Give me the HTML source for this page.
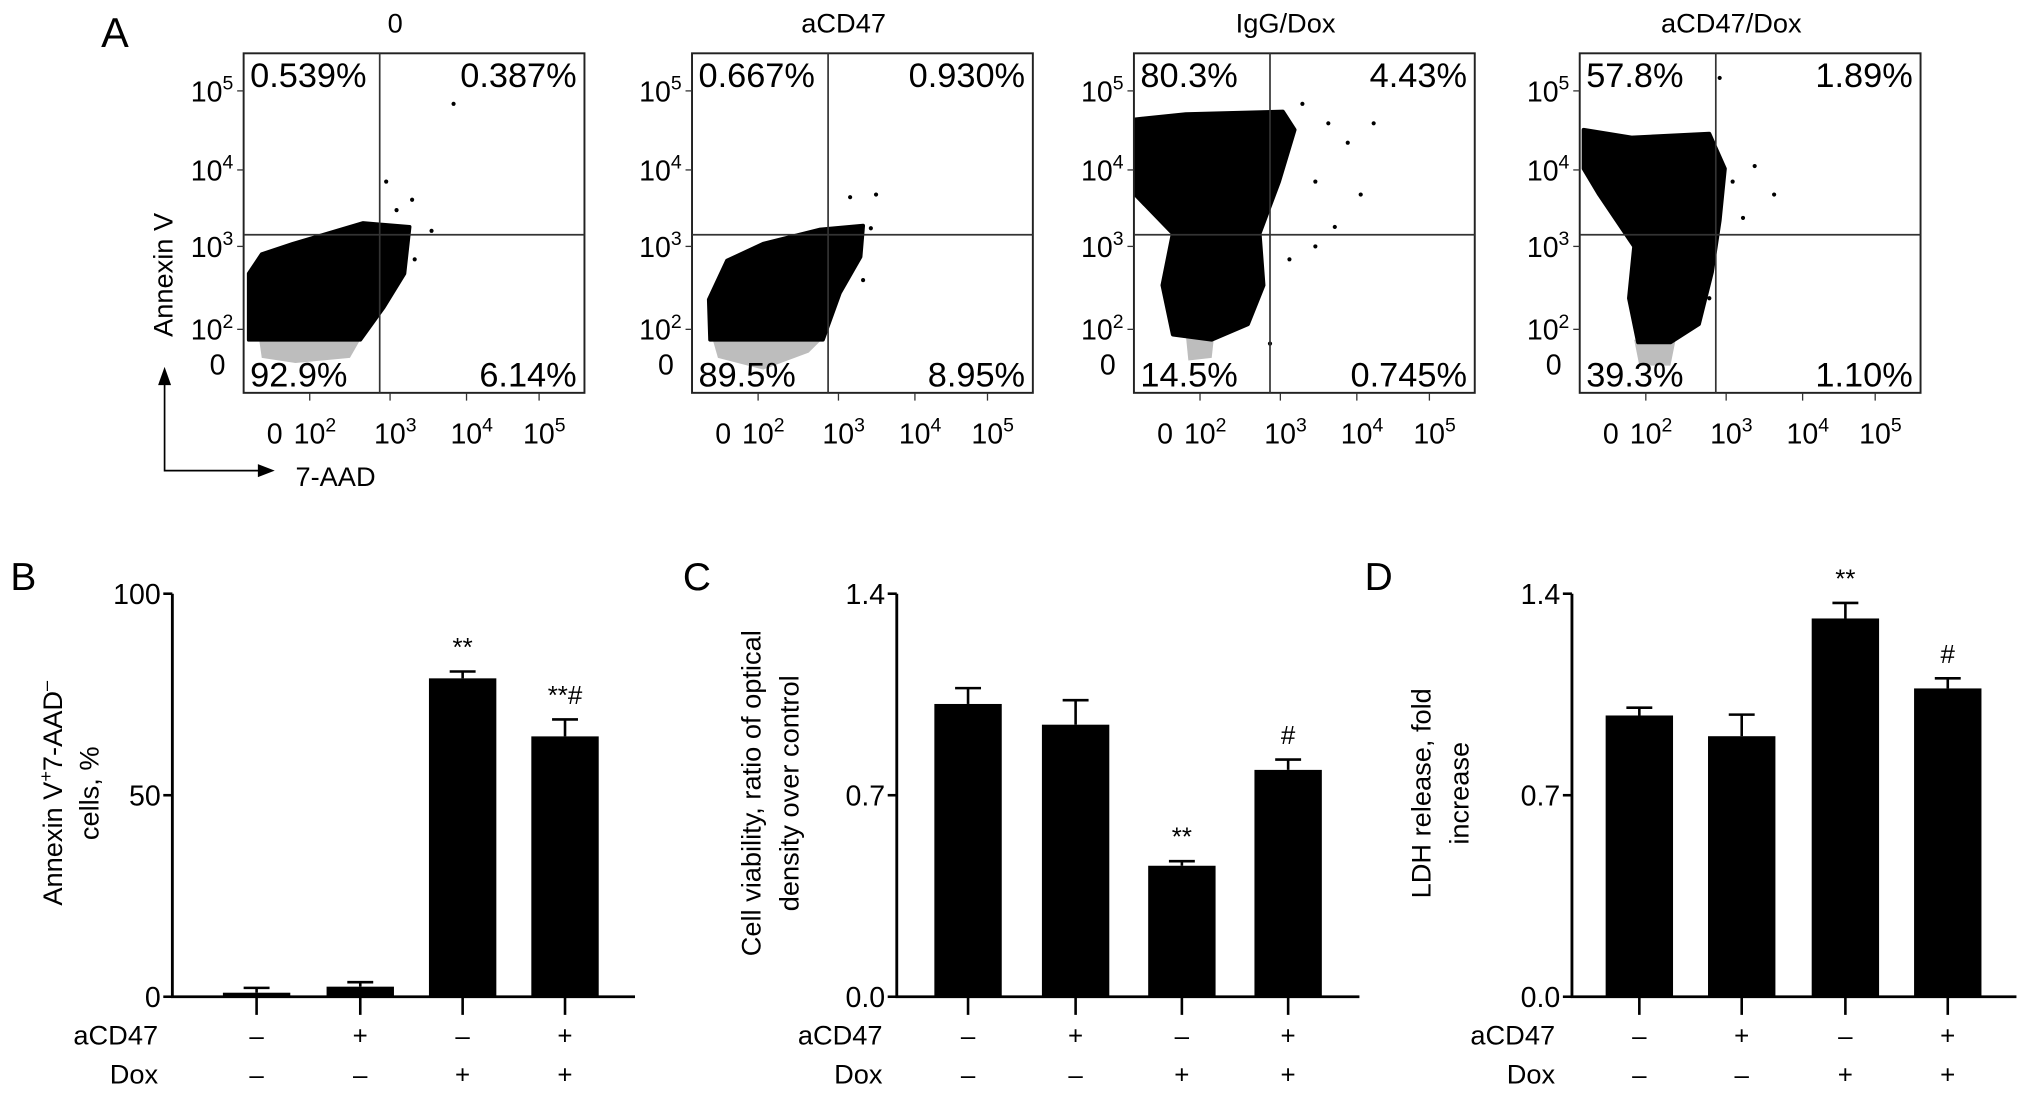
<!DOCTYPE html>
<html><head><meta charset="utf-8"><style>
html,body{margin:0;padding:0;background:#fff;}
svg{display:block;font-family:"Liberation Sans",Arial,sans-serif;}
</style></head><body>
<svg id="fig" width="2032" height="1098" viewBox="0 0 1568 847" xmlns="http://www.w3.org/2000/svg">
<rect width="1568" height="847" fill="#fff"/>
<g id="panelA"></g>
<g id="bars"></g>
</svg>
<script>
// ---- Panel A (flow cytometry) labels ----
const flowTitles = ["0","aCD47","IgG/Dox","aCD47/Dox"];
const flowUL = ["0.539%","0.667%","80.3%","57.8%"];
const flowUR = ["0.387%","0.930%","4.43%","1.89%"];
const flowLL = ["92.9%","89.5%","14.5%","39.3%"];
const flowLR = ["6.14%","8.95%","0.745%","1.10%"];
const flowYTicks = ["5","4","3","2"];
const flowXTicks = ["2","3","4","5"];

// ---- Panel B ----
const bValues = [1, 2.5, 79, 64.6];
const bErrors = [1.2, 1.1, 1.7, 4.2];
const bTicks = [0, 50, 100];
const bMarks = ["", "", "**", "**#"];
// ---- Panel C ----
const cValues = [1.017, 0.945, 0.455, 0.788];
const cErrors = [0.055, 0.085, 0.016, 0.036];
const cTicks = [0.0, 0.7, 1.4];
const cMarks = ["", "", "**", "#"];
// ---- Panel D ----
const dValues = [0.977, 0.905, 1.314, 1.071];
const dErrors = [0.027, 0.075, 0.054, 0.035];
const dTicks = [0.0, 0.7, 1.4];
const dMarks = ["", "", "**", "#"];
const aCD47Row = ["–","+","–","+"];
const doxRow = ["–","–","+","+"];

const NS = "http://www.w3.org/2000/svg";
function mk(tag, attrs, parent, txt){
  const e = document.createElementNS(NS, tag);
  for (const k in attrs) e.setAttribute(k, attrs[k]);
  if (txt !== undefined) e.textContent = txt;
  parent.appendChild(e);
  return e;
}

// ------ Panel A ------
const A = document.getElementById('panelA');
let t = mk('text',{x:78,y:36,'font-size':32},A,'A');



const lefts = [188, 534, 875, 1219];
const W = 263, TOP = 41, BOT = 303, GX = 105, GY = 181;
const clouds = [
  "4,262 4,211 14,196 38,188 92,172 128,175 124,211 108,237 90,262",
  "14,262 13,231 27,201 55,188 99,177 132,174 130,198 114,226 101,262",
  "1,92 40,88 115,86 124,100 112,140 97,180 100,220 88,250 60,262 30,258 22,220 30,180 1,150",
  "3,100 40,106 100,103 112,130 108,170 102,210 92,250 70,264 45,264 38,230 42,190 15,150 3,130"
];
const grays = [
  "12,262 90,262 82,276 40,280 14,276",
  "16,262 100,262 90,272 55,285 20,276",
  "40,258 62,258 60,276 42,278",
  "42,262 74,262 70,282 46,282"
];
const sparse = [
  [[130,154],[118,162],[145,178],[162,80],[110,140],[132,200]],
  [[122,152],[138,176],[128,200],[142,150],[132,216]],
  [[130,80],[150,95],[165,110],[140,140],[120,200],[105,265],[185,95],[175,150],[140,190],[155,175]],
  [[108,60],[118,140],[135,128],[150,150],[100,230],[126,168]]
];
for (let i=0;i<4;i++){
  const L = lefts[i];
  const g = mk('g',{transform:`translate(${L},0)`},A);
  
  
  t = mk('text',{x:GX+12,y:25,'font-size':21,'text-anchor':'middle'},g,flowTitles[i]);
  
  
  let p = mk('polygon',{points:grays[i],fill:'#bdbdbd'},g);
  
  
  p = mk('polygon',{points:clouds[i],fill:'#000','stroke':'#000','stroke-width':3,'stroke-linejoin':'round'},g);
  
  
  sparse[i].forEach(d=>{
    const c = mk('circle',{cx:d[0],cy:d[1],r:1.6,fill:'#000'},g);
    
    
  });
  let r = mk('rect',{x:0,y:TOP,width:W,height:BOT-TOP,fill:'none',stroke:'#222','stroke-width':1.5},g);
  
  
  let l = mk('line',{x1:GX,y1:TOP,x2:GX,y2:BOT,stroke:'#333','stroke-width':1.3},g);
  
  
  l = mk('line',{x1:0,y1:GY,x2:W,y2:GY,stroke:'#333','stroke-width':1.3},g);
  
  
  const fs = 26.5;
  t = mk('text',{x:5,y:67,'font-size':fs},g,flowUL[i]);  
  t = mk('text',{x:W-6,y:67,'font-size':fs,'text-anchor':'end'},g,flowUR[i]);  
  t = mk('text',{x:5,y:298,'font-size':fs},g,flowLL[i]);  
  t = mk('text',{x:W-6,y:298,'font-size':fs,'text-anchor':'end'},g,flowLR[i]);  
  // y ticks
  const yBase = [78, 139, 198, 262];
  flowYTicks.forEach((s,k)=>{
    t = mk('text',{x:-8,y:yBase[k],'font-size':22,'text-anchor':'end'},g);
    
    
    mk('tspan',{},t,'10');
    mk('tspan',{'font-size':15,dy:-9},t,s);
    mk('line',{x1:-5,y1:yBase[k]-8,x2:0,y2:yBase[k]-8,stroke:'#333','stroke-width':1},g);
  });
  t = mk('text',{x:-14,y:289,'font-size':22,'text-anchor':'end'},g,'0');
  
  
  // x ticks
  const xPos = [55, 117, 176, 232];
  t = mk('text',{x:24,y:342,'font-size':22,'text-anchor':'middle'},g,'0');
  
  
  flowXTicks.forEach((s,k)=>{
    t = mk('text',{x:xPos[k],y:342,'font-size':22,'text-anchor':'middle'},g);
    
    
    mk('tspan',{},t,'10');
    mk('tspan',{'font-size':15,dy:-9},t,s);
    mk('line',{x1:xPos[k]-4,y1:BOT,x2:xPos[k]-4,y2:BOT+6,stroke:'#333','stroke-width':1},g);
  });
}
// axis arrows
const ax = mk('g',{},A);


mk('polyline',{points:'127,296 127,363 200,363',fill:'none',stroke:'#000','stroke-width':1.3},ax);
mk('polygon',{points:'122,297 132,297 127,283',fill:'#000'},ax);
mk('polygon',{points:'199,358 199,368 212,363',fill:'#000'},ax);
t = mk('text',{x:228,y:375,'font-size':21},ax,'7-AAD');


t = mk('text',{x:0,y:0,'font-size':21,'text-anchor':'middle',transform:'translate(133,212) rotate(-90)'},ax,'Annexin V');



// ------ Bar panels ------
const B = document.getElementById('bars');
const Y0 = 769, Y1 = 458;
function barPanel(cfg){
  const g = mk('g',{},B);
  
  
  const ymax = cfg.ticks[cfg.ticks.length-1];
  const ys = v => Y0 - (v/ymax)*(Y0-Y1);
  t = mk('text',{x:cfg.letterX,y:455,'font-size':30},g,cfg.letter);
  
  
  let l = mk('line',{x1:cfg.axX,y1:Y1,x2:cfg.axX,y2:Y0,stroke:'#000','stroke-width':2.2},g);
  
  
  l = mk('line',{x1:cfg.axX-1,y1:Y0,x2:cfg.axEnd,y2:Y0,stroke:'#000','stroke-width':2.2},g);
  
  
  cfg.ticks.forEach(v=>{
    mk('line',{x1:cfg.axX-7,y1:ys(v),x2:cfg.axX,y2:ys(v),stroke:'#000','stroke-width':2},g);
    t = mk('text',{x:cfg.axX-9,y:ys(v)+8,'font-size':22,'text-anchor':'end'},g,cfg.fmt(v));
    
    
  });
  const bw = 52;
  cfg.values.forEach((v,i)=>{
    const cx = cfg.centers[i];
    const top = ys(v), et = ys(v+cfg.errors[i]);
    mk('line',{x1:cx,y1:et,x2:cx,y2:top,stroke:'#000','stroke-width':2},g);
    mk('line',{x1:cx-10,y1:et,x2:cx+10,y2:et,stroke:'#000','stroke-width':2},g);
    const r = mk('rect',{x:cx-bw/2,y:top,width:bw,height:Y0-top,fill:'#000'},g);
    
    
    mk('line',{x1:cx,y1:Y0,x2:cx,y2:Y0+14,stroke:'#000','stroke-width':2},g);
    if (cfg.marks[i]){
      t = mk('text',{x:cx,y:et-12,'font-size':20,'text-anchor':'middle'},g,cfg.marks[i]);
      
      
    }
    t = mk('text',{x:cx,y:806,'font-size':20,'text-anchor':'middle'},g,aCD47Row[i]);
    
    
    t = mk('text',{x:cx,y:836,'font-size':20,'text-anchor':'middle'},g,doxRow[i]);
    
    
  });
  t = mk('text',{x:cfg.rowX,y:806,'font-size':21,'text-anchor':'end'},g,'aCD47');
  
  
  t = mk('text',{x:cfg.rowX,y:836,'font-size':21,'text-anchor':'end'},g,'Dox');
  
  
  cfg.ylabel.forEach((s,k)=>{
    t = mk('text',{x:0,y:0,'font-size':21,'text-anchor':'middle',transform:`translate(${cfg.ylx[k]},${cfg.yly}) rotate(-90)`},g);
    
    
    if (Array.isArray(s)) s.forEach(seg=>{ mk('tspan',seg[1],t,seg[0]); });
    else t.textContent = s;
  });
}
barPanel({name:'panel-b-apoptosis', letter:'B', letterX:8, axX:133, axEnd:490,
  centers:[198,278,357,436], values:bValues, errors:bErrors, ticks:bTicks, marks:bMarks,
  fmt:v=>String(v), rowX:122,
  ylabel:[[["Annexin V",{}],["+",{'font-size':14,dy:-8}],["7-AAD",{dy:8}],["–",{'font-size':14,dy:-8}]], "cells, %"], ylx:[48,76], yly:612});
barPanel({name:'panel-c-viability', letter:'C', letterX:527, axX:692, axEnd:1049,
  centers:[747,830,912,994], values:cValues, errors:cErrors, ticks:cTicks, marks:cMarks,
  fmt:v=>v.toFixed(1), rowX:681,
  ylabel:["Cell viability, ratio of optical","density over control"], ylx:[587,616], yly:612});
barPanel({name:'panel-d-ldh', letter:'D', letterX:1053, axX:1213, axEnd:1556,
  centers:[1265,1344,1424,1503], values:dValues, errors:dErrors, ticks:dTicks, marks:dMarks,
  fmt:v=>v.toFixed(1), rowX:1200,
  ylabel:["LDH release, fold","increase"], ylx:[1104,1133], yly:612});
</script>
</body></html>
